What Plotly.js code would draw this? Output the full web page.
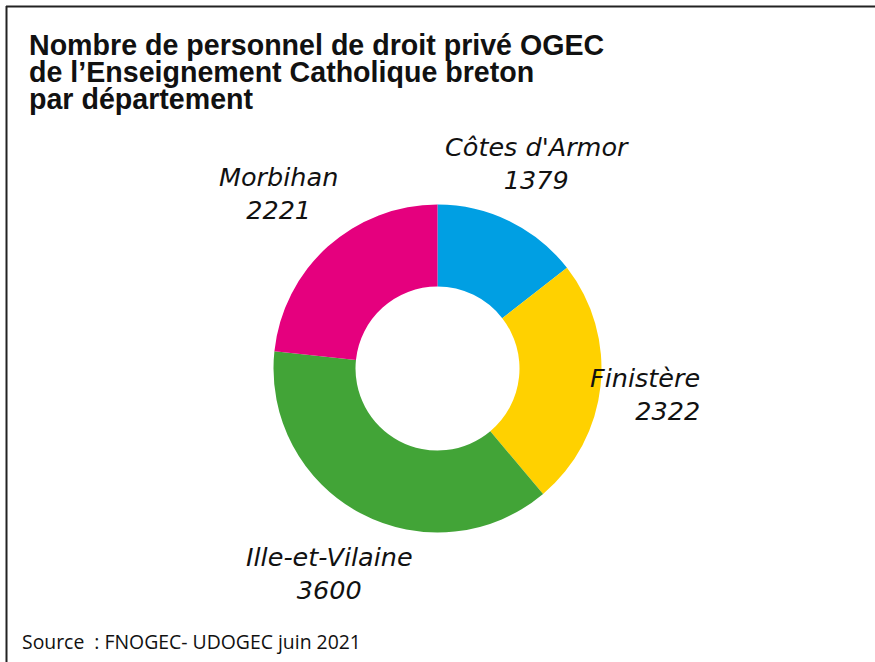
<!DOCTYPE html>
<html>
<head>
<meta charset="utf-8">
<script src="https://cdn.plot.ly/plotly-3.0.1.min.js"></script>
<style>html,body{margin:0;padding:0;background:#fff;}#chart{width:875px;height:662px;}</style>
</head>
<body>
<div id="chart"></div>
<script>
const departements = ["Côtes d'Armor", "Finistère", "Ille-et-Vilaine", "Morbihan"];
const effectifs = [1379, 2322, 3600, 2221];
const couleurs = ["#009FE3", "#FFD100", "#42A437", "#E5007E"];
const titreLignes = ["Nombre de personnel de droit privé OGEC", "de l’Enseignement Catholique breton", "par département"];
const sourceTexte = "Source  : FNOGEC- UDOGEC juin 2021";

const W = 875, H = 662;
const px = v => v / W;
const py = v => 1 - v / H;

// label placement (pixel centres) and alignment per slice
const labelPos = [
  {x: 537, y: 164, align: 'center', xanchor: 'center'},
  {x: 702, y: 394, align: 'right', xanchor: 'right'},
  {x: 329, y: 573, align: 'center', xanchor: 'center'},
  {x: 278, y: 193, align: 'center', xanchor: 'center'}
];

const annotations = [];
const titleCentres = [45, 72, 99];
titreLignes.forEach((t, i) => {
  annotations.push({
    text: '<b>' + t + '</b>', xref: 'paper', yref: 'paper',
    x: px(27), y: py(titleCentres[i]), xanchor: 'left', yanchor: 'middle',
    showarrow: false, font: {family: 'Liberation Sans, Arial, sans-serif', size: 28.6, color: '#111'}
  });
});
departements.forEach((d, i) => {
  const p = labelPos[i];
  annotations.push({
    text: '<i>' + d + '<br>' + effectifs[i] + '</i>', xref: 'paper', yref: 'paper',
    x: px(p.x), y: py(p.y), xanchor: p.xanchor, yanchor: 'middle', align: p.align,
    showarrow: false, font: {family: 'DejaVu Sans, sans-serif', size: 25.5, color: '#111'}
  });
});
annotations.push({
  text: sourceTexte, xref: 'paper', yref: 'paper',
  x: px(20), y: py(641), xanchor: 'left', yanchor: 'middle',
  showarrow: false, font: {family: 'Open Sans, sans-serif', size: 19.4, color: '#111'}
});

const data = [{
  type: 'pie',
  labels: departements,
  values: effectifs,
  marker: {colors: couleurs, line: {width: 0}},
  hole: 0.5,
  sort: false,
  direction: 'clockwise',
  rotation: 0,
  textinfo: 'none',
  hoverinfo: 'none',
  showlegend: false,
  domain: {x: [px(273.5), px(601.5)], y: [py(532.5), py(204.5)]}
}];

const layout = {
  width: W, height: H,
  margin: {l: 0, r: 0, t: 0, b: 0},
  paper_bgcolor: '#fff',
  showlegend: false,
  annotations: annotations,
  shapes: [
    {type: 'line', xref: 'paper', yref: 'paper', x0: px(6), x1: 1.01, y0: py(6.5), y1: py(6.5), line: {color: '#222', width: 2}},
    {type: 'line', xref: 'paper', yref: 'paper', x0: px(6.5), x1: px(6.5), y0: py(6), y1: -0.01, line: {color: '#222', width: 2}}
  ]
};

Plotly.newPlot('chart', data, layout, {staticPlot: true, displayModeBar: false});
</script>
</body>
</html>
